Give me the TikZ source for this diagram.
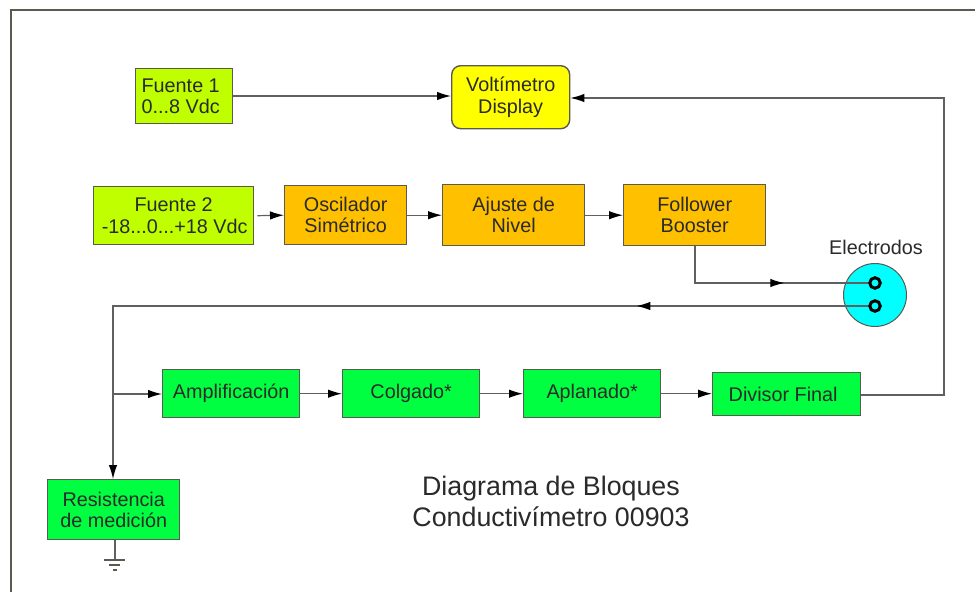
\documentclass[tikz,border=0pt]{standalone}
\usepackage{fontspec}
\setmainfont{Liberation Sans}
\usetikzlibrary{arrows.meta,decorations.markings,calc}
\definecolor{lime}{HTML}{BFFF00}
\definecolor{amber}{HTML}{FFC000}
\definecolor{vivid}{HTML}{00FF40}
\definecolor{elec}{HTML}{00FFFF}
\definecolor{purey}{HTML}{FFFF00}
\definecolor{edge}{HTML}{5A5A50}
\definecolor{wirec}{HTML}{606060}
\definecolor{txt}{HTML}{2A2A2A}
\tikzset{
  x=1pt,y=-1pt,
  blockbox/.style={draw=edge,line width=1.4pt,inner sep=0pt,align=center,text=txt,
    font=\fontsize{19.8}{21.3}\selectfont,anchor=north west},
  limebox/.style={blockbox,fill=lime},
  amberbox/.style={blockbox,fill=amber},
  greenbox/.style={blockbox,fill=vivid},
  wire/.style={draw=wirec,line width=1.2pt},
  tip/.style={-{Latex[length=14pt,width=8.5pt,black]}},
  midtip/.style={postaction={decorate},decoration={markings,
    mark=at position #1 with {\arrow{Latex[length=14pt,width=8.5pt,black]}}}},
  caption/.style={font=\fontsize{26.8}{31}\selectfont,text=txt,align=center},
  ring/.style={circle,draw=black,line width=3pt,fill=elec,minimum size=10.5pt,inner sep=0pt}
}
\newcommand{\blk}[7]{\node[#1,minimum width=#5pt-#3pt,minimum height=#6pt-#4pt] (#2) at (#3,#4) {#7};}
\begin{document}
\begin{tikzpicture}
\useasboundingbox (0,0) rectangle (975,592);
\fill[white] (0,0) rectangle (975,592);
\coordinate (fa) at (11,592);
\coordinate (fb) at (11,10);
\coordinate (fc) at (975,10);
\draw[edge,line width=1.2pt] (fa) -- (fb) -- (fc);

\blk{limebox,align=left}{f1}{135}{68}{232}{123}{\hspace*{-7pt}Fuente 1\\\hspace*{-7pt}0...8 Vdc}
\node[blockbox,fill=purey,rounded corners=9pt,minimum width=118pt,minimum height=63pt] (volt) at (451,65) {Voltímetro\\Display};
\blk{limebox}{f2}{93}{186}{253}{244}{Fuente 2\\\hspace*{2pt}-18...0...+18 Vdc}
\blk{amberbox}{osc}{284}{185}{406}{244}{Oscilador\\Simétrico}
\blk{amberbox}{aju}{442}{184}{584}{245}{Ajuste de\\Nivel}
\blk{amberbox}{fol}{623}{184}{765}{245}{Follower\\Booster}
\blk{greenbox}{amp}{162}{369}{299}{417}{Amplificación}
\blk{greenbox}{col}{342}{369}{479}{417}{Colgado*}
\blk{greenbox}{apl}{523}{369}{660}{417}{Aplanado*}
\blk{greenbox}{div}{712}{372}{860}{415}{\hspace*{-7pt}Divisor Final}
\blk{greenbox}{res}{47}{479}{179}{539}{Resistencia\\de medición}

\node[circle,draw=edge,line width=1pt,fill=elec,minimum size=63pt,inner sep=0pt] (el) at (875,295) {};
\node[font=\fontsize{19.8}{22}\selectfont,text=txt] (ellab) at (876,247) {Electrodos};
\node[ring] (e1) at (875,283) {};
\node[ring] (e2) at (875,306) {};

\node[caption] (cap) at (551,501) {Diagrama de Bloques\\Conductivímetro 00903};

% connectors
\draw[wire,tip] (f1.east |- 0,96) -- (volt.west |- 0,96);
\draw[wire,tip] ([xshift=3pt]f2.east) -- (osc.west);
\draw[wire,tip] (osc.east) -- (aju.west);
\draw[wire,tip] (aju.east) -- (fol.west);
\coordinate (c1) at (695,283);
\draw[wire,midtip=0.60] (fol.south -| c1) -- (c1) -- (e1.west);
\coordinate (c2) at (113,306);
\coordinate (c3) at (113,394);
\draw[wire,midtip=0.275] (e2.west) -- (c2) -- (c3);
\draw[wire,tip] (c3) -- (res.north -| c3);
\draw[wire,tip] (c3) -- (amp.west |- c3);
\draw[wire,tip] (amp.east) -- (col.west);
\draw[wire,tip] (col.east) -- (apl.west);
\draw[wire,tip] (apl.east) -- (div.west |- apl.east);
\coordinate (c4) at (944,395);
\coordinate (c5) at (944,98);
\draw[wire,tip] (div.east |- c4) -- (c4) -- (c5) -- (volt.east |- c5);

% ground
\coordinate (g0) at (115,560);
\draw[wire] (res.south -| g0) -- (g0);
\draw[edge,line width=1.3pt] ($(g0)+(-11,0)$) -- ($(g0)+(10,0)$);
\draw[edge,line width=1.3pt] ($(g0)+(-6,5)$) -- ($(g0)+(5,5)$);
\draw[edge,line width=1.3pt] ($(g0)+(-2,10)$) -- ($(g0)+(2,10)$);
\end{tikzpicture}
\end{document}
